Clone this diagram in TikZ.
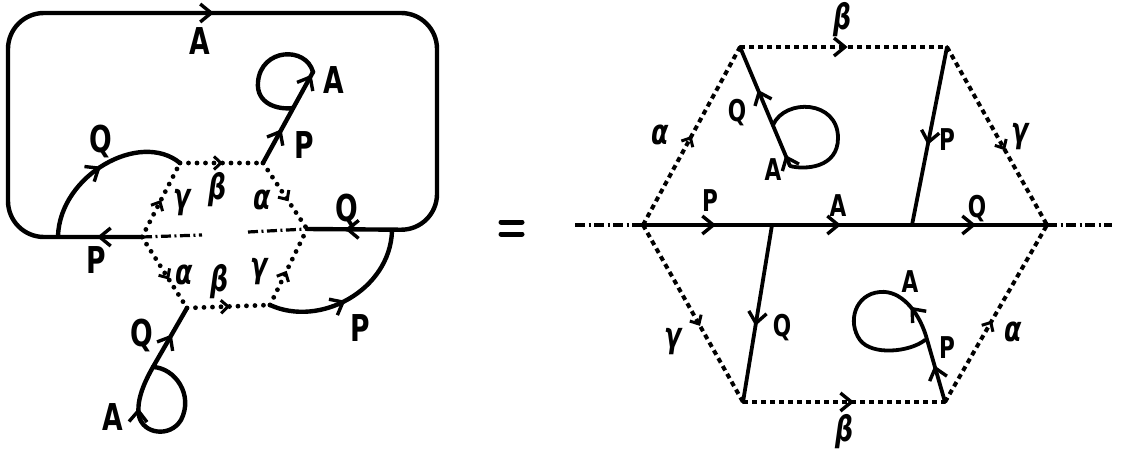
\documentclass[tikz,border=0pt]{standalone}
\usepackage{fontspec}
\newfontfamily\hand[FakeStretch=0.72]{DejaVu Sans}
\usetikzlibrary{arrows.meta,decorations.markings}
\tikzset{
  sol/.style={line width=4.4pt, line cap=round, line join=round},
  solr/.style={line width=3.8pt, line cap=round, line join=round},
  dotl/.style={line width=4.8pt, line cap=round, dash pattern=on 0pt off 8.5pt},
  dshr/.style={line width=4pt, dash pattern=on 5pt off 4pt},
  dd/.style={line width=3.2pt, dash pattern=on 10pt off 3.5pt on 2pt off 3.5pt},
  arr/.style={postaction={decorate, decoration={markings, mark=at position #1 with {\arrow{Straight Barb[length=11pt,width=18pt,line width=3.4pt]}}}}},
  arrs/.style={postaction={decorate, decoration={markings, mark=at position #1 with {\arrow{Straight Barb[length=7pt,width=13pt,line width=3pt]}}}}},
  labL/.style={font=\hand\bfseries\fontsize{37}{37}\selectfont, inner sep=0pt},
  labR/.style={font=\hand\bfseries\fontsize{30}{30}\selectfont, inner sep=0pt},
  grk/.style={font=\hand\bfseries\itshape\fontsize{35}{35}\selectfont, inner sep=0pt},
}
\begin{document}
\begin{tikzpicture}[x=1pt,y=-1pt]
\useasboundingbox (0,0) rectangle (1121,449);
% ---------- left diagram ----------
\coordinate (HL) at (142,237);
\coordinate (HTL) at (180,163);
\coordinate (HTR) at (263,163);
\coordinate (HR) at (307,229);
\coordinate (HBR) at (270,305);
\coordinate (HBL) at (187,308);
\coordinate (DL) at (202,235);
\coordinate (DR) at (248,232);
\coordinate (C1) at (8,237);
\coordinate (C2) at (8,13);
\coordinate (C3) at (437,13);
\coordinate (C4) at (437,230);
\coordinate (QA) at (58,236);
\coordinate (PT) at (313,72);
\coordinate (PJ) at (293,108);
\coordinate (PR) at (392,231);
\coordinate (BJ) at (153,367);

\draw[sol, rounded corners=36pt, arr=45pt, arr=533pt, arr=-38pt]
  (HL) -- (C1) -- (C2) -- (C3) -- (C4) -- (HR);
\draw[sol, arr=0.5] (QA) .. controls (60,175) and (140,130) .. (HTL);
\draw[sol, arr=0.37, arr=0.97] (HTR) -- (PT);
\draw[sol] (PT) .. controls (306,46) and (261,48) .. (258,82) .. controls (256,104) and (278,110) .. (PJ);
\draw[sol, arr=0.47] (HBR) .. controls (320,328) and (390,290) .. (PR);
\draw[sol, arr=0.55] (BJ) -- (HBL);
\draw[sol, arr=0.75] (BJ) .. controls (175,368) and (194,395) .. (181,420) .. controls (170,438) and (143,434) .. (139,416) .. controls (136,400) and (145,381) .. (BJ);

\draw[dotl, arrs=0.52] (HTL) -- (HTR);
\draw[dotl, arrs=0.5] (HL) -- (HTL);
\draw[dotl, arrs=0.58] (HTR) -- (HR);
\draw[dotl, arrs=0.6] (HL) -- (HBL);
\draw[dotl, arrs=0.52] (HBL) -- (HBR);
\draw[dotl, arrs=0.45] (HBR) -- (HR);
\draw[dd] (HL) -- (DL);
\draw[dd] (DR) -- (HR);

\node[labL] (lA1) at (200,41) {A};
\node[labL] (lA2) at (334,80) {A};
\node[labL] (lP1) at (304,145) {P};
\node[labL] (lQ1) at (101,141) {Q};
\node[labL] (lQ2) at (347,210) {Q};
\node[labL] (lP2) at (96,260) {P};
\node[labL] (lP3) at (360,328) {P};
\node[labL] (lQ3) at (142,335) {Q};
\node[labL] (lA3) at (113,417) {A};
\node[grk] (lg1) at (182,203) {γ};
\node[grk] (lb1) at (218,190) {β};
\node[grk] (la1) at (262,200) {α};
\node[grk] (la2) at (184,275) {α};
\node[grk] (lb2) at (220,282) {β};
\node[grk] (lg2) at (259,272) {γ};

% ---------- equals ----------
\coordinate (E1) at (501,222);
\coordinate (E2) at (522,222);
\coordinate (E3) at (501,234);
\coordinate (E4) at (522,234);
\draw[line width=5pt, line cap=round] (E1) -- (E2);
\draw[line width=5pt, line cap=round] (E3) -- (E4);

% ---------- right diagram ----------
\coordinate (RL) at (643,225);
\coordinate (RTL) at (740,47);
\coordinate (RTR) at (947,47);
\coordinate (RR) at (1047,225);
\coordinate (RBR) at (945,402);
\coordinate (RBL) at (743,402);
\coordinate (EL) at (575,225);
\coordinate (ER) at (1112,225);
\coordinate (QT) at (772,225);
\coordinate (PB) at (912,225);
\coordinate (LQ) at (790,166);
\coordinate (LJ) at (773,125);
\coordinate (PJ2) at (926,336);

\draw[dd] (EL) -- (RL);
\draw[dd] (RR) -- (ER);
\draw[solr, arr=73pt, arr=198pt, arr=333pt] (RL) -- (RR);
\draw[solr, arr=0.55] (RTR) -- (PB);
\draw[solr, arr=0.57] (QT) -- (RBL);
\draw[solr, arr=12pt, arr=0.64] (LQ) -- (RTL);
\draw[solr] (LJ) .. controls (785,98) and (838,100) .. (838,138) .. controls (838,168) and (805,170) .. (LQ);
\draw[solr, arr=38pt, arr=102pt] (RBR) -- (PJ2) .. controls (918,310) and (900,290) .. (880,292) .. controls (855,294) and (847,322) .. (860,340) .. controls (872,356) and (910,352) .. (925,340);

\draw[dshr, arr=0.52] (RTL) -- (RTR);
\draw[dshr, arrs=0.5] (RL) -- (RTL);
\draw[dshr, arrs=0.58] (RTR) -- (RR);
\draw[dshr, arrs=0.57] (RL) -- (RBL);
\draw[dshr, arrs=0.46] (RBR) -- (RR);
\draw[dshr, arr=0.55] (RBL) -- (RBR);

\node[grk] (rb1) at (843,20) {β};
\node[grk] (ra1) at (660,135) {α};
\node[labR] (rQ1) at (737,113) {Q};
\node[labR] (rA1) at (773,170) {A};
\node[labR] (rP1) at (710,201) {P};
\node[labR] (rA2) at (838,206) {A};
\node[labR] (rQ2) at (977,209) {Q};
\node[labR] (rP2) at (947,140) {P};
\node[grk] (rg1) at (1020,137) {γ};
\node[grk] (rg2) at (673,342) {γ};
\node[labR] (rQ3) at (782,328) {Q};
\node[grk] (rb2) at (845,432) {β};
\node[labR] (rA3) at (910,282) {A};
\node[labR] (rP3) at (947,348) {P};
\node[grk] (ra2) at (1013,332) {α};
\end{tikzpicture}
\end{document}
